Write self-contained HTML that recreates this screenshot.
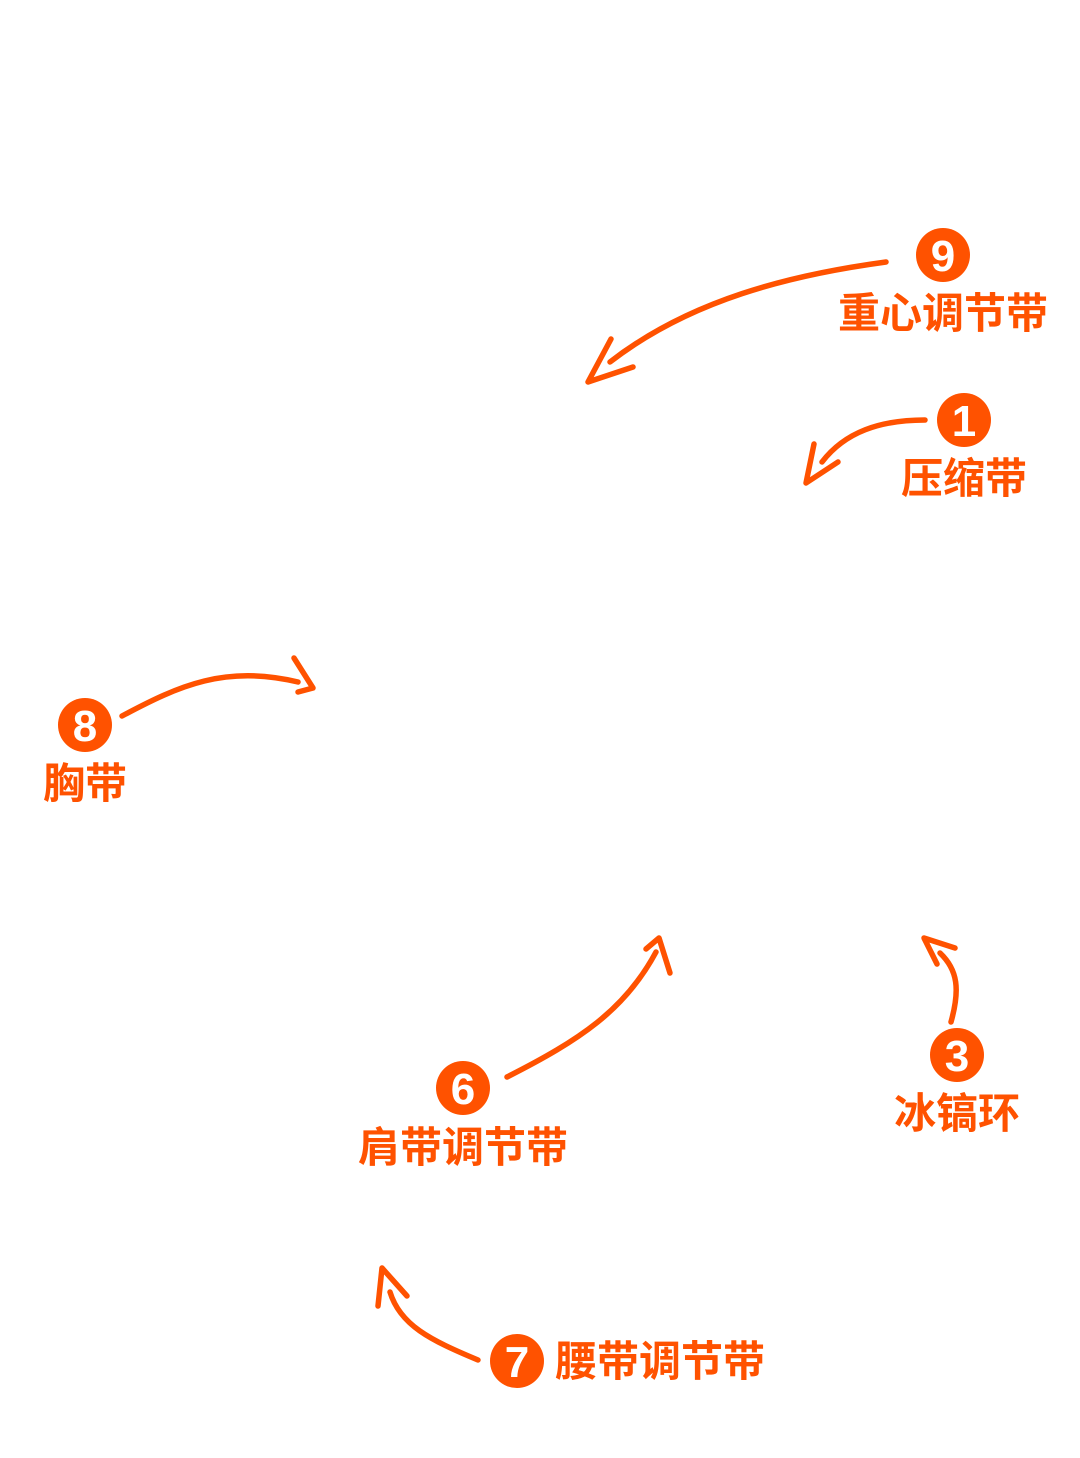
<!DOCTYPE html>
<html><head><meta charset="utf-8"><style>
html,body{margin:0;padding:0;background:#fff;}
svg{display:block;}
text{font-family:"Liberation Sans","Noto Sans CJK SC",sans-serif;font-weight:bold;}
</style></head><body>
<svg width="1080" height="1458" viewBox="0 0 1080 1458" xmlns="http://www.w3.org/2000/svg">
<g fill="none" stroke="#FF5200" stroke-width="5.5" stroke-linecap="round" stroke-linejoin="round">
  <path d="M886 262 C790 275 690 300 610 362"/>
  <path d="M611 339 L588 382 L633 367"/>
  <path d="M925 420 C880 420 845 432 822 462"/>
  <path d="M814 444 L806 483 L838 462"/>
  <path d="M122 716 C180 685 225 665 298 682"/>
  <path d="M294 658 L313 688 L298 692"/>
  <path d="M507 1077 C580 1040 625 1010 656 952"/>
  <path d="M646 949 L659 938 L670 973"/>
  <path d="M951 1022 C960 990 958 970 940 953"/>
  <path d="M937 964 L924 938 L955 948"/>
  <path d="M478 1360 C430 1340 400 1325 390 1292"/>
  <path d="M378 1306 L382 1268 L407 1296"/>
</g>
<g fill="#FF5200">
  <circle cx="943" cy="255" r="27"/>
  <circle cx="964" cy="420" r="27"/>
  <circle cx="85" cy="725" r="27"/>
  <circle cx="463" cy="1088" r="27"/>
  <circle cx="957" cy="1055" r="27"/>
  <circle cx="517" cy="1361" r="27"/>
</g>
<g fill="#fff" font-size="44" text-anchor="middle">
  <text x="943" y="271">9</text>
  <text x="964" y="436">1</text>
  <text x="85" y="741">8</text>
  <text x="463" y="1104">6</text>
  <text x="957" y="1071">3</text>
  <text x="517" y="1377">7</text>
</g>
<g fill="#FF5200" font-size="42">
  <text x="943" y="328" text-anchor="middle">重心调节带</text>
  <text x="964" y="493" text-anchor="middle">压缩带</text>
  <text x="85" y="798" text-anchor="middle">胸带</text>
  <text x="463" y="1162" text-anchor="middle">肩带调节带</text>
  <text x="957" y="1128" text-anchor="middle">冰镐环</text>
  <text x="555" y="1376">腰带调节带</text>
</g>
</svg>
</body></html>
